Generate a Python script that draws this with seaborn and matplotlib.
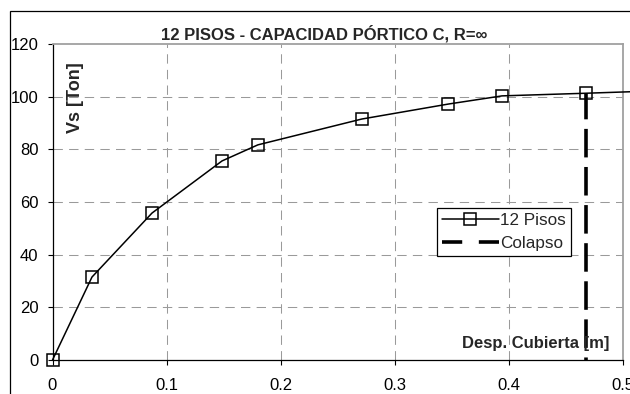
import matplotlib
matplotlib.use("Agg")
import matplotlib.pyplot as plt
from matplotlib.lines import Line2D
from matplotlib.patches import Rectangle
import seaborn as sns
import pandas as pd

# Pushover capacity curve, 12-storey frame C
desp = [0.0, 0.0346, 0.0872, 0.1486, 0.180, 0.271, 0.347, 0.394, 0.4673, 0.55]
vs = [0.0, 31.5, 55.8, 75.6, 81.7, 91.5, 97.2, 100.3, 101.3, 102.5]

# Collapse displacement marker
colapso_x = [0.4673, 0.4673]
colapso_y = [0.0, 101.3]

x_ticks = [0, 0.1, 0.2, 0.3, 0.4, 0.5]
x_tick_labels = ["0", "0.1", "0.2", "0.3", "0.4", "0.5"]
y_ticks = [0, 20, 40, 60, 80, 100, 120]

titulo = "12 PISOS - CAPACIDAD PÓRTICO C, R=∞"
etiqueta_y = "Vs [Ton]"
etiqueta_x = "Desp. Cubierta [m]"
serie_curva = "12 Pisos"
serie_colapso = "Colapso"

sns.set_theme(style="ticks")
plt.rcParams["font.family"] = ["Liberation Sans", "DejaVu Sans"]
plt.rcParams["font.size"] = 12

curva = pd.DataFrame({"desp": desp, "vs": vs})
colapso = pd.DataFrame({"desp": colapso_x, "vs": colapso_y})

W, H = 630, 394
fig = plt.figure(figsize=(W / 100, H / 100), dpi=100)
fig.patch.set_facecolor("white")
ax = fig.add_axes([52.5 / W, 34 / H, 570.5 / W, 316 / H])

# outer chart frame (runs past the right and bottom edges)
fig.add_artist(Rectangle((10 / W, -0.2), 1.2, 1.2 - 11 / H,
                         transform=fig.transFigure, fill=False,
                         ec="black", lw=0.9, clip_on=False))

grid_kw = dict(color="#9a9a9a", lw=0.75, dashes=(9, 6))
ax.set_axisbelow(True)
for xv in x_ticks[1:-1]:
    ax.axvline(xv, zorder=0, **grid_kw)
for yv in y_ticks[1:-1]:
    ax.axhline(yv, zorder=0, **grid_kw)

sns.lineplot(data=colapso, x="desp", y="vs", ax=ax, estimator=None, sort=False,
             color="black", lw=2.6, linestyle=(7.2, (7.9, 2.65)),
             clip_on=False, zorder=3)
sns.lineplot(data=curva, x="desp", y="vs", ax=ax, estimator=None, sort=False,
             color="black", lw=1.1, marker="s", markersize=8.5,
             markerfacecolor="none", markeredgecolor="black",
             markeredgewidth=1.1, clip_on=False, zorder=4)

ax.set_xlim(0, 0.5)
ax.set_ylim(0, 120)
ax.set_xticks(x_ticks)
ax.set_xticklabels(x_tick_labels)
ax.set_yticks(y_ticks)
ax.set_xlabel("")
ax.set_ylabel("")
ax.tick_params(axis="both", direction="out", length=3.6, width=0.8,
               colors="black", labelsize=12)
ax.tick_params(axis="x", pad=9.5)
ax.tick_params(axis="y", pad=6.5)

for side in ("left", "bottom"):
    ax.spines[side].set_color("black")
    ax.spines[side].set_linewidth(0.9)
for side in ("top", "right"):
    ax.spines[side].set_visible(True)
    ax.spines[side].set_color("#a0a0a0")
    ax.spines[side].set_linewidth(1.3)

ax.text(0.0403, 0.829, etiqueta_y, transform=ax.transAxes, rotation=90,
        ha="center", va="center", fontsize=13, fontweight="bold")
ax.text(0.9755, 0.037, etiqueta_x, transform=ax.transAxes,
        ha="right", va="baseline", fontsize=12, fontweight="bold")
fig.text(324 / W, 1 - 40 / H, titulo, ha="center", va="baseline",
         fontsize=12, fontweight="bold")

handles = [
    Line2D([], [], color="black", lw=1.1, marker="s", markersize=8.5,
           markerfacecolor="none", markeredgewidth=1.1),
    Line2D([], [], color="black", lw=2.6, linestyle=(0, (5.6, 4.6))),
]
leg = ax.legend(handles, [serie_curva, serie_colapso], loc="upper left",
                bbox_to_anchor=(0.674, 0.481), frameon=True, fancybox=False,
                edgecolor="black", framealpha=1, fontsize=12.3,
                handlelength=3.3, handletextpad=0.1, borderpad=0.3,
                labelspacing=0.45, borderaxespad=0)
leg.get_frame().set_linewidth(0.9)

fig.savefig("out.png", dpi=100, facecolor="white")
